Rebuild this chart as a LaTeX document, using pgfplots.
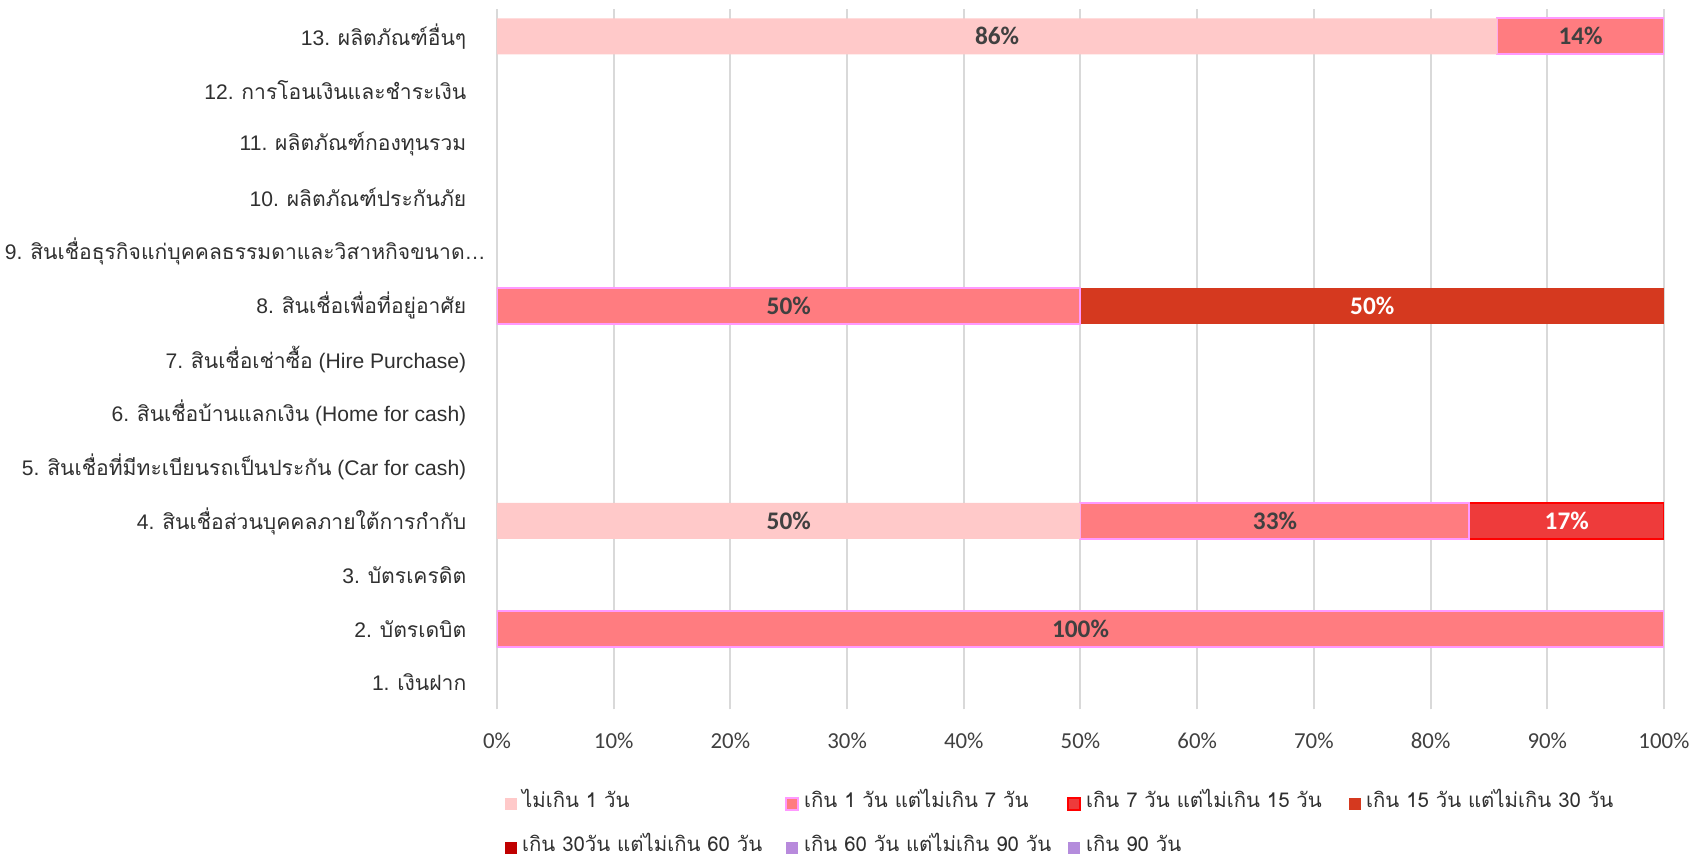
\documentclass[border=0pt]{standalone}
\usepackage{fontspec}
\setmainfont{Liberation Sans}
\newfontfamily\thai[Script=Thai]{Loma}
\newfontfamily\carlito{Carlito}
\usepackage{pgfplots}
\pgfplotsset{compat=1.18}
\usepackage{pgfplotstable}
\definecolor{c1}{HTML}{FFC9C9}
\definecolor{c2}{HTML}{FF7C80}
\definecolor{c2b}{HTML}{FF99FF}
\definecolor{c3}{HTML}{EE3B3B}
\definecolor{c3b}{HTML}{FF0000}
\definecolor{c4}{HTML}{D5391F}
\definecolor{c5}{HTML}{C00000}
\definecolor{c6}{HTML}{B88ADC}
\definecolor{c7}{HTML}{B48CDC}
\definecolor{lbl}{HTML}{404040}
\definecolor{ylbl}{HTML}{303030}
\definecolor{grd}{HTML}{D9D9D9}
\pgfplotstableread{
y s1 s2 s4 s3
2 0 100 0 0
4 50 33.333 0 16.667
8 0 50 50 0
13 85.714 14.286 0 0
}\data
\pgfplotsset{
  sq/.style={legend image code/.code={\path[##1,#1,line width=0.2mm] (0mm,0mm) rectangle (1.2mm,1.2mm);}},
  lab/.style={
    point meta=\thisrow{#1},
    nodes near coords={\pgfmathfloatifflags{\pgfplotspointmeta}{0}{}{\pgfmathprintnumber[fixed,precision=0]{\pgfplotspointmeta}\%}},
    nodes near coords align={center},
    every node near coord/.append style={anchor=center, inner sep=0pt, font=\carlito\bfseries\fontsize{7.2}{8}\selectfont},
  },
}
\begin{document}
\begin{tikzpicture}
\begin{axis}[
  at={(0,0)}, anchor=south west,
  /pgf/number format/assume math mode=true,
  xbar stacked,
  stacked ignores zero,
  bar width=3.6mm,
  scale only axis, width=116.7mm, height=70.0mm,
  xmin=0, xmax=100, ymin=0.5, ymax=13.5,
  xtick={0,10,20,30,40,50,60,70,80,90,100},
  xticklabel={\pgfmathprintnumber{\tick}\%},
  ytick={1,2,3,4,5,6,7,8,9,10,11,12,13},
  yticklabels={
    {1. {\thai เงินฝาก}},
    {2. {\thai บัตรเดบิต}},
    {3. {\thai บัตรเครดิต}},
    {4. {\thai สินเชื่อส่วนบุคคลภายใต้การกำกับ}},
    {5. {\thai สินเชื่อที่มีทะเบียนรถเป็นประกัน} (Car for cash)},
    {6. {\thai สินเชื่อบ้านแลกเงิน} (Home for cash)},
    {7. {\thai สินเชื่อเช่าซื้อ} (Hire Purchase)},
    {8. {\thai สินเชื่อเพื่อที่อยู่อาศัย}},
    {9. {\thai สินเชื่อธุรกิจแก่บุคคลธรรมดาและวิสาหกิจขนาด}…\kern-1.95mm},
    {10. {\thai ผลิตภัณฑ์ประกันภัย}},
    {11. {\thai ผลิตภัณฑ์กองทุนรวม}},
    {12. {\thai การโอนเงินและชำระเงิน}},
    {13. {\thai ผลิตภัณฑ์อื่นๆ}}
  },
  xmajorgrids,
  major grid style={grd, line width=0.2mm},
  axis line style={draw=none},
  major tick length=0pt,
  tick style={draw=none},
  xticklabel style={font=\carlito\fontsize{6.5}{7}\selectfont, text=lbl, anchor=center, yshift=-3.16mm, inner sep=0pt},
  yticklabel style={font=\fontsize{6}{7}\selectfont, text=ylbl, anchor=east, xshift=-3mm, inner sep=0pt},
  legend columns=4,
  legend cell align=left,
  legend style={at={(rel axis cs:0,0)}, anchor=north west, xshift=0.75mm, yshift=-8.7mm,
    draw=none, fill=none, inner sep=0pt, row sep=2.93mm, column sep=0pt,
    font=\thai\fontsize{5.8}{7}\selectfont, text=ylbl,
    nodes={inner sep=0pt},
    /tikz/every odd column/.append style={column sep=0.5mm}},
]
\addplot[fill=c1, draw=none, forget plot, lab=s1, every node near coord/.append style={text=lbl}] table[x=s1,y=y]{\data};
\addplot[fill=c2, draw=c2b, line width=0.2mm, forget plot, lab=s2, every node near coord/.append style={text=lbl}] table[x=s2,y=y]{\data};
\addplot[fill=c4, draw=none, forget plot, lab=s4, every node near coord/.append style={text=white}] table[x=s4,y=y]{\data};
\addplot[fill=c3, draw=c3b, line width=0.2mm, forget plot, lab=s3, every node near coord/.append style={text=white}] table[x=s3,y=y]{\data};
\addlegendimage{sq={fill=c1,draw=none}}
\addlegendentry{\makebox[26.3mm][l]{\smash{ไม่เกิน 1 วัน}}}
\addlegendimage{sq={fill=c2,draw=c2b}}
\addlegendentry{\makebox[26.3mm][l]{\smash{เกิน 1 วัน แต่ไม่เกิน 7 วัน}}}
\addlegendimage{sq={fill=c3,draw=c3b}}
\addlegendentry{\makebox[26.3mm][l]{\smash{เกิน 7 วัน แต่ไม่เกิน 15 วัน}}}
\addlegendimage{sq={fill=c4,draw=none}}
\addlegendentry{\makebox[26.3mm][l]{\smash{เกิน 15 วัน แต่ไม่เกิน 30 วัน}}}
\addlegendimage{sq={fill=c5,draw=none}}
\addlegendentry{\makebox[26.3mm][l]{\smash{เกิน 30วัน แต่ไม่เกิน 60 วัน}}}
\addlegendimage{sq={fill=c6,draw=none}}
\addlegendentry{\makebox[26.3mm][l]{\smash{เกิน 60 วัน แต่ไม่เกิน 90 วัน}}}
\addlegendimage{sq={fill=c7,draw=none}}
\addlegendentry{\makebox[26.3mm][l]{\smash{เกิน 90 วัน}}}
\end{axis}
\pgfresetboundingbox
\useasboundingbox (-49.7mm,-14.86mm) rectangle (120.2mm,70.94mm);
\end{tikzpicture}
\end{document}
